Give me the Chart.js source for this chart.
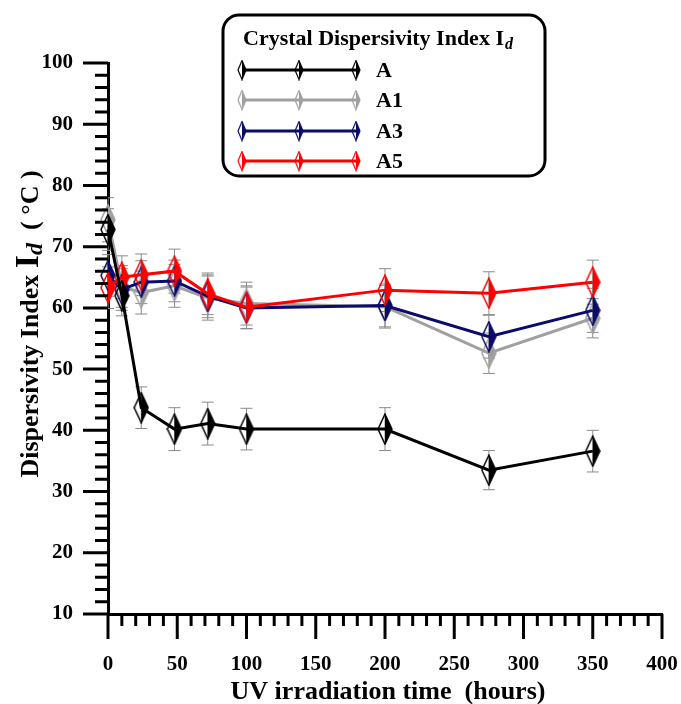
<!DOCTYPE html>
<html>
<head>
<meta charset="utf-8">
<script src="https://cdn.jsdelivr.net/npm/chart.js@4.4.1/dist/chart.umd.min.js"></script>
<style>
  html, body { margin: 0; padding: 0; background: #fff; }
  #wrap { width: 681px; height: 704px; position: relative; }
</style>
</head>
<body>
<div id="wrap"><canvas id="chart" width="681" height="704"></canvas></div>
<script>
// data
const hours = [0, 10, 24, 48, 72, 100, 200, 275, 350];
const seriesNames = ['A', 'A1', 'A3', 'A5'];
const valuesA  = [72.8, 62.0, 43.7, 40.2, 41.1, 40.2, 40.2, 33.5, 36.6];
const valuesA1 = [74.4, 63.5, 62.5, 63.6, 61.6, 60.7, 60.2, 52.6, 58.3];
const valuesA3 = [65.3, 63.0, 64.2, 64.4, 61.9, 60.0, 60.4, 55.3, 59.6];
const valuesA5 = [63.3, 65.0, 65.4, 66.0, 62.3, 60.1, 62.9, 62.4, 64.2];
const errA  = [3.4, 3.3, 3.4, 3.5, 3.5, 3.4, 3.5, 3.2, 3.4];
const errA1 = [3.6, 3.4, 3.5, 3.5, 3.6, 3.5, 3.5, 3.3, 3.2];
const errA3 = [3.4, 3.4, 3.5, 3.4, 3.5, 3.4, 3.5, 3.5, 3.6];
const errA5 = [3.4, 3.5, 3.4, 3.6, 3.4, 3.5, 3.5, 3.5, 3.6];
const xTicks = [0, 50, 100, 150, 200, 250, 300, 350, 400];
const yTicks = [10, 20, 30, 40, 50, 60, 70, 80, 90, 100];

const colors = { A: '#000000', A1: '#a0a0a0', A3: '#0b0b6b', A5: '#ff0000' };
const serif = "'Liberation Serif', 'Times New Roman', serif";

// half-open diamond marker: outline on the left half, solid on the right
function makeDiamond(color, w, h, lw) {
    const c = document.createElement('canvas');
    c.width = w + 2;
    c.height = h + 2;
    const g = c.getContext('2d');
    const cx = c.width / 2, cy = c.height / 2;
    g.beginPath();
    g.moveTo(cx, 1); g.lineTo(c.width - 1, cy); g.lineTo(cx, c.height - 1); g.lineTo(1, cy);
    g.closePath();
    g.strokeStyle = color;
    g.lineWidth = lw;
    g.stroke();
    g.beginPath();
    g.moveTo(cx, 1); g.lineTo(c.width - 1, cy); g.lineTo(cx, c.height - 1);
    g.closePath();
    g.fillStyle = color;
    g.fill();
    return c;
}

function toPoints(vals) {
    return hours.map((h, i) => ({ x: h, y: vals[i] }));
}

function makeSet(name, vals, errs) {
    return {
        label: name,
        data: toPoints(vals),
        errors: errs,
        borderColor: colors[name],
        backgroundColor: colors[name],
        borderWidth: 3,
        pointStyle: makeDiamond(colors[name], 14, 30, 1.5),
        pointRadius: 5,
        clip: false,
        tension: 0
    };
}

// A on top, then A5, A3, A1 underneath
const datasets = [
    makeSet('A', valuesA, errA),
    makeSet('A5', valuesA5, errA5),
    makeSet('A3', valuesA3, errA3),
    makeSet('A1', valuesA1, errA1)
];

const errorBars = {
    id: 'errorBars',
    beforeDatasetsDraw(chart) {
        const { ctx, scales: { x, y } } = chart;
        ctx.save();
        ctx.strokeStyle = '#8a8a8a';
        ctx.lineWidth = 1;
        chart.data.datasets.forEach(ds => {
            ds.data.forEach((p, i) => {
                const px = x.getPixelForValue(p.x);
                const top = y.getPixelForValue(p.y + ds.errors[i]);
                const bot = y.getPixelForValue(p.y - ds.errors[i]);
                ctx.beginPath();
                ctx.moveTo(px, top); ctx.lineTo(px, bot);
                ctx.moveTo(px - 6, top); ctx.lineTo(px + 6, top);
                ctx.moveTo(px - 6, bot); ctx.lineTo(px + 6, bot);
                ctx.stroke();
            });
        });
        ctx.restore();
    }
};

const axisTicks = {
    id: 'axisTicks',
    afterDraw(chart) {
        const { ctx, chartArea, scales: { x, y } } = chart;
        ctx.save();
        ctx.strokeStyle = '#000';
        ctx.lineWidth = 3;
        ctx.beginPath();
        for (let v = 0; v <= 400; v += 10) {
            const px = x.getPixelForValue(v);
            const len = xTicks.includes(v) ? 25 : 12;
            ctx.moveTo(px, chartArea.bottom);
            ctx.lineTo(px, chartArea.bottom + len);
        }
        for (let v = 10; v <= 100; v += 2) {
            const py = y.getPixelForValue(v);
            const len = yTicks.includes(v) ? 25 : 13;
            ctx.moveTo(chartArea.left, py);
            ctx.lineTo(chartArea.left - len, py);
        }
        ctx.stroke();
        ctx.restore();
    }
};

const titlesAndLegend = {
    id: 'titlesAndLegend',
    afterDraw(chart) {
        const { ctx } = chart;
        ctx.save();
        ctx.fillStyle = '#000';

        // x axis title
        ctx.font = 'bold 26px ' + serif;
        ctx.textAlign = 'center';
        ctx.textBaseline = 'middle';
        ctx.fillText('UV irradiation time  (hours)', 388, 692);

        // y axis title, rotated, with I_d
        ctx.save();
        ctx.translate(30, 324);
        ctx.rotate(-Math.PI / 2);
        const partA = 'Dispersivity Index ';
        const partB = 'I';
        const partC = 'd';
        const partD = '  ( \u00B0C )';
        ctx.textAlign = 'left';
        ctx.textBaseline = 'alphabetic';
        const fA = 'bold 26px ' + serif, fB = 'bold 34px ' + serif, fC = 'italic bold 24px ' + serif;
        ctx.font = fA; const wA = ctx.measureText(partA).width; const wD = ctx.measureText(partD).width;
        ctx.font = fB; const wB = ctx.measureText(partB).width;
        ctx.font = fC; const wC = ctx.measureText(partC).width;
        let cx = -(wA + wB + wC + wD) / 2;
        const base = 8;
        ctx.font = fA; ctx.fillText(partA, cx, base); cx += wA;
        ctx.font = fB; ctx.fillText(partB, cx, base); cx += wB;
        ctx.font = fC; ctx.fillText(partC, cx, base + 4); cx += wC;
        ctx.font = fA; ctx.fillText(partD, cx, base);
        ctx.restore();

        // legend box
        ctx.lineWidth = 3;
        ctx.strokeStyle = '#000';
        ctx.beginPath();
        ctx.roundRect(223, 15, 322, 161, 16);
        ctx.fillStyle = '#fff';
        ctx.fill();
        ctx.stroke();

        ctx.fillStyle = '#000';
        ctx.textAlign = 'left';
        ctx.textBaseline = 'alphabetic';
        ctx.font = 'bold 22px ' + serif;
        const t = 'Crystal Dispersivity Index I';
        ctx.fillText(t, 243, 45);
        const tw = ctx.measureText(t).width;
        ctx.font = 'italic bold 16px ' + serif;
        ctx.fillText('d', 243 + tw + 1, 49);

        const rows = [70, 100, 131, 161];
        seriesNames.forEach((name, i) => {
            const yy = rows[i];
            ctx.strokeStyle = colors[name];
            ctx.lineWidth = 3;
            ctx.beginPath();
            ctx.moveTo(242, yy); ctx.lineTo(356, yy);
            ctx.stroke();
            const mk = makeDiamond(colors[name], 8, 19, 1.2);
            [242, 299, 356].forEach(mx => ctx.drawImage(mk, mx - mk.width / 2, yy - mk.height / 2));
            ctx.fillStyle = '#000';
            ctx.font = 'bold 22px ' + serif;
            ctx.textBaseline = 'middle';
            ctx.fillText(name, 376, yy + 1);
            ctx.textBaseline = 'alphabetic';
        });
        ctx.restore();
    }
};

const tickFont = { family: serif, weight: 'bold', size: 21 };

new Chart(document.getElementById('chart').getContext('2d'), {
    type: 'line',
    data: { datasets: datasets },
    options: {
        responsive: false,
        animation: false,
        events: [],
        layout: { padding: { top: 63, right: 19, left: 0, bottom: 0 } },
        plugins: {
            legend: { display: false },
            tooltip: { enabled: false }
        },
        scales: {
            x: {
                type: 'linear',
                min: 0,
                max: 400,
                afterBuildTicks: s => { s.ticks = xTicks.map(v => ({ value: v })); },
                afterFit: s => { s.height = 90; s.paddingRight = 0; s.paddingLeft = 0; },
                ticks: { font: tickFont, color: '#000', padding: 13, maxRotation: 0, autoSkip: false },
                grid: { display: true, drawOnChartArea: false, drawTicks: true, tickLength: 25, tickColor: 'transparent' },
                border: { display: true, color: '#000', width: 3 }
            },
            y: {
                type: 'linear',
                min: 10,
                max: 100,
                afterBuildTicks: s => { s.ticks = yTicks.map(v => ({ value: v })); },
                afterFit: s => { s.width = 108; s.paddingTop = 0; s.paddingBottom = 0; },
                ticks: { font: tickFont, color: '#000', padding: 10, autoSkip: false },
                grid: { display: true, drawOnChartArea: false, drawTicks: true, tickLength: 25, tickColor: 'transparent' },
                border: { display: true, color: '#000', width: 3 }
            }
        }
    },
    plugins: [errorBars, axisTicks, titlesAndLegend]
});
</script>
</body>
</html>
